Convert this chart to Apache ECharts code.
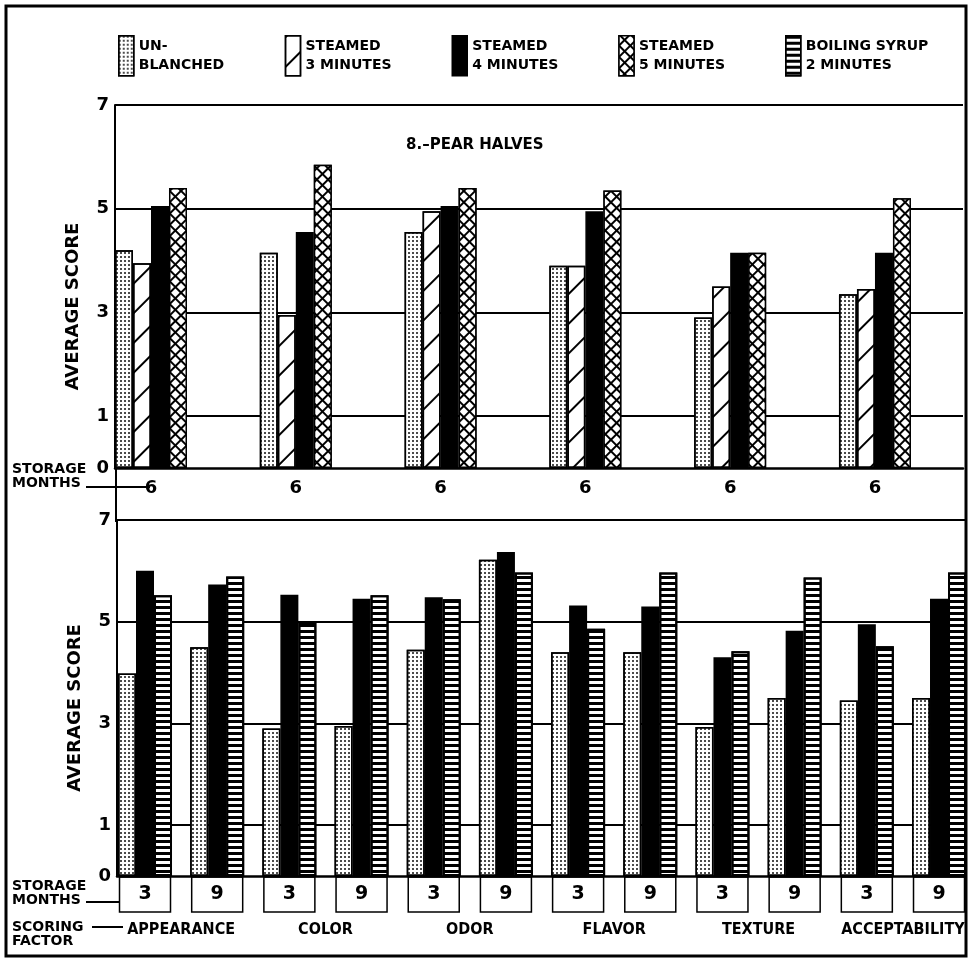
<!DOCTYPE html>
<html><head><meta charset="utf-8">
<script src="https://cdn.jsdelivr.net/npm/echarts@6/dist/echarts.min.js"></script>
<style>html,body{margin:0;padding:0;background:#fff}#c{width:970px;height:963px}</style>
</head><body><div id="c"></div>
<script>
// ---- data ----
const treatments = ['UN-\nBLANCHED', 'STEAMED\n3 MINUTES', 'STEAMED\n4 MINUTES', 'STEAMED\n5 MINUTES', 'BOILING SYRUP\n2 MINUTES'];
const factors = ['APPEARANCE', 'COLOR', 'ODOR', 'FLAVOR', 'TEXTURE', 'ACCEPTABILITY'];
const topMonths = ['6', '6', '6', '6', '6', '6'];
const bottomMonths = ['3', '9', '3', '9', '3', '9', '3', '9', '3', '9', '3', '9'];
const yTickLabels = [0, 1, 3, 5, 7];
const titleText = '8.\u2013PEAR HALVES';

const topUnblanched = [4.2, 4.15, 4.55, 3.9, 2.9, 3.35];
const topSteamed3   = [3.95, 2.95, 4.95, 3.9, 3.5, 3.45];
const topSteamed4   = [5.05, 4.55, 5.05, 4.95, 4.15, 4.15];
const topSteamed5   = [5.4, 5.85, 5.4, 5.35, 4.15, 5.2];

const botUnblanched = [3.98, 4.5, 2.9, 2.95, 4.45, 6.22, 4.4, 4.4, 2.93, 3.5, 3.45, 3.5];
const botSteamed4   = [6.0, 5.73, 5.53, 5.45, 5.48, 6.37, 5.32, 5.3, 4.3, 4.82, 4.95, 5.45];
const botSyrup      = [5.52, 5.89, 4.98, 5.52, 5.44, 5.97, 4.86, 5.97, 4.42, 5.87, 4.52, 5.97];

// ---- styles ----
const FONT = '"DejaVu Sans", sans-serif';
const CFONT = '"DejaVu Sans Condensed", "DejaVu Sans", sans-serif';
const BW = 1.5;
const st = {
  dots:  { color: '#fff', borderColor: '#000', borderWidth: BW,
           decal: { symbol: 'circle', symbolSize: 1, color: '#111', dashArrayX: [2, 1.4], dashArrayY: [2, 1.4], rotation: 0 } },
  hatch: { color: '#fff', borderColor: '#000', borderWidth: BW,
           decal: { symbol: 'rect', symbolSize: 1, color: '#000', dashArrayX: [1, 0], dashArrayY: [1.6, 19], rotation: -Math.PI / 4 } },
  solid: { color: '#000', borderColor: '#000', borderWidth: BW },
  cross: { color: '#000', borderColor: '#000', borderWidth: BW,
           decal: { symbol: 'rect', symbolSize: 1, color: '#fff', dashArrayX: [5.5, 1.8], dashArrayY: [5.5, 1.8], rotation: Math.PI / 4 } },
  lines: { color: '#fff', borderColor: '#000', borderWidth: 2,
           decal: { symbol: 'rect', symbolSize: 1, color: '#000', dashArrayX: [1, 0], dashArrayY: [2.2, 3], rotation: 0 } }
};

const toPts = arr => arr.map((v, i) => [i, v]);
const intLabel = list => v => (Number.isInteger(v) && list[v] !== undefined) ? list[v] : '';

function yAxisFor(grid, padBottom) {
  return {
    gridIndex: grid, type: 'value', min: 0, max: 7, interval: 1,
    axisLine: { show: true, onZero: false, lineStyle: { color: '#000', width: 2 } },
    axisTick: { show: false },
    axisLabel: { margin: 6, color: '#000', fontSize: 18, fontWeight: 'bold', fontFamily: FONT,
                 formatter: v => yTickLabels.includes(v) ? String(v) : '' },
    splitLine: { show: true, lineStyle: { color: ['rgba(0,0,0,0)', '#000'], width: 2 } },
    name: 'AVERAGE SCORE', nameLocation: 'middle', nameGap: 33, nameRotate: 90,
    nameTextStyle: { color: '#000', fontSize: 18, fontWeight: 'bold', fontFamily: FONT, padding: [0, padBottom, 0, 0] }
  };
}

const chart = echarts.init(document.getElementById('c'), null, { renderer: 'canvas' });
chart.setOption({
  backgroundColor: '#fff',
  animation: false,
  title: { text: titleText, left: 406, top: 138, padding: 0,
           textStyle: { fontSize: 15, fontWeight: 'bold', color: '#000', fontFamily: FONT } },
  legend: {
    data: treatments, left: 118, top: 35, padding: 0, itemWidth: 15, itemHeight: 40, itemGap: 0,
    selectedMode: false, icon: 'rect',
    itemStyle: { borderColor: '#000', borderWidth: 1.5 },
    textStyle: { width: 146, fontSize: 14, fontWeight: 'bold', lineHeight: 19, color: '#000', fontFamily: FONT }
  },
  grid: [
    { left: 115, right: 7, top: 105, bottom: 495 },
    { left: 117, right: 5, top: 520, bottom: 87 }
  ],
  xAxis: [
    { gridIndex: 0, type: 'value', min: -0.2486, max: 5.608, minInterval: 1, maxInterval: 1,
      axisLine: { show: true, onZero: false, lineStyle: { color: '#000', width: 2.5 } },
      axisTick: { show: false }, splitLine: { show: false },
      axisLabel: { margin: 11, showMinLabel: false, showMaxLabel: false, formatter: intLabel(topMonths),
                   color: '#000', fontSize: 18, fontWeight: 'bold', fontFamily: FONT } },
    { gridIndex: 1, type: 'value', min: -0.388, max: 11.36, minInterval: 1, maxInterval: 1,
      axisLine: { show: true, onZero: false, lineStyle: { color: '#000', width: 2.5 } },
      axisTick: { show: false }, splitLine: { show: false },
      axisLabel: { margin: 1, showMinLabel: false, showMaxLabel: false, formatter: intLabel(bottomMonths),
                   width: 51, height: 35, lineHeight: 35, align: 'center', borderColor: '#000', borderWidth: 1.5,
                   color: '#000', fontSize: 19, fontWeight: 'bold', fontFamily: FONT } },
    { gridIndex: 1, type: 'value', position: 'bottom', min: -0.444, max: 5.43, minInterval: 1, maxInterval: 1,
      axisLine: { show: false }, axisTick: { show: false }, splitLine: { show: false },
      axisLabel: { margin: 46, showMinLabel: false, showMaxLabel: false, formatter: intLabel(factors),
                   color: '#000', fontSize: 16, fontWeight: 'bold', fontFamily: CFONT } }
  ],
  yAxis: [ yAxisFor(0, 40), yAxisFor(1, 20) ],
  series: [
    { name: treatments[0], type: 'bar', xAxisIndex: 0, yAxisIndex: 0, data: toPts(topUnblanched), barWidth: 18, barGap: '0%', itemStyle: st.dots },
    { name: treatments[1], type: 'bar', xAxisIndex: 0, yAxisIndex: 0, data: toPts(topSteamed3), barWidth: 18, barGap: '0%', itemStyle: st.hatch },
    { name: treatments[2], type: 'bar', xAxisIndex: 0, yAxisIndex: 0, data: toPts(topSteamed4), barWidth: 18, barGap: '0%', itemStyle: st.solid },
    { name: treatments[3], type: 'bar', xAxisIndex: 0, yAxisIndex: 0, data: toPts(topSteamed5), barWidth: 18, barGap: '0%', itemStyle: st.cross },
    { name: treatments[0], type: 'bar', xAxisIndex: 1, yAxisIndex: 1, data: toPts(botUnblanched), barWidth: 18, barGap: '0%', itemStyle: st.dots },
    { name: treatments[2], type: 'bar', xAxisIndex: 1, yAxisIndex: 1, data: toPts(botSteamed4), barWidth: 18, barGap: '0%', itemStyle: st.solid },
    { name: treatments[4], type: 'bar', xAxisIndex: 1, yAxisIndex: 1, data: toPts(botSyrup), barWidth: 18, barGap: '0%', itemStyle: st.lines }
  ],
  graphic: [
    { type: 'rect', silent: true, z: 100, shape: { x: 6, y: 6, width: 960, height: 950 }, style: { fill: 'none', stroke: '#000', lineWidth: 3 } },
    { type: 'line', silent: true, shape: { x1: 116, y1: 466, x2: 116, y2: 522 }, style: { stroke: '#000', lineWidth: 2 } },
    { type: 'text', silent: true, left: 12, top: 462, style: { text: 'STORAGE\nMONTHS', fontSize: 14, fontWeight: 'bold', fontFamily: FONT, fill: '#000', lineHeight: 14 } },
    { type: 'line', silent: true, shape: { x1: 86, y1: 487, x2: 150, y2: 487 }, style: { stroke: '#000', lineWidth: 2 } },
    { type: 'text', silent: true, left: 12, top: 879, style: { text: 'STORAGE\nMONTHS', fontSize: 14, fontWeight: 'bold', fontFamily: FONT, fill: '#000', lineHeight: 14 } },
    { type: 'line', silent: true, shape: { x1: 86, y1: 902, x2: 120, y2: 902 }, style: { stroke: '#000', lineWidth: 2 } },
    { type: 'text', silent: true, left: 12, top: 920, style: { text: 'SCORING\nFACTOR', fontSize: 14, fontWeight: 'bold', fontFamily: FONT, fill: '#000', lineHeight: 14 } },
    { type: 'line', silent: true, shape: { x1: 92, y1: 927, x2: 123, y2: 927 }, style: { stroke: '#000', lineWidth: 2 } }
  ]
});
</script></body></html>
